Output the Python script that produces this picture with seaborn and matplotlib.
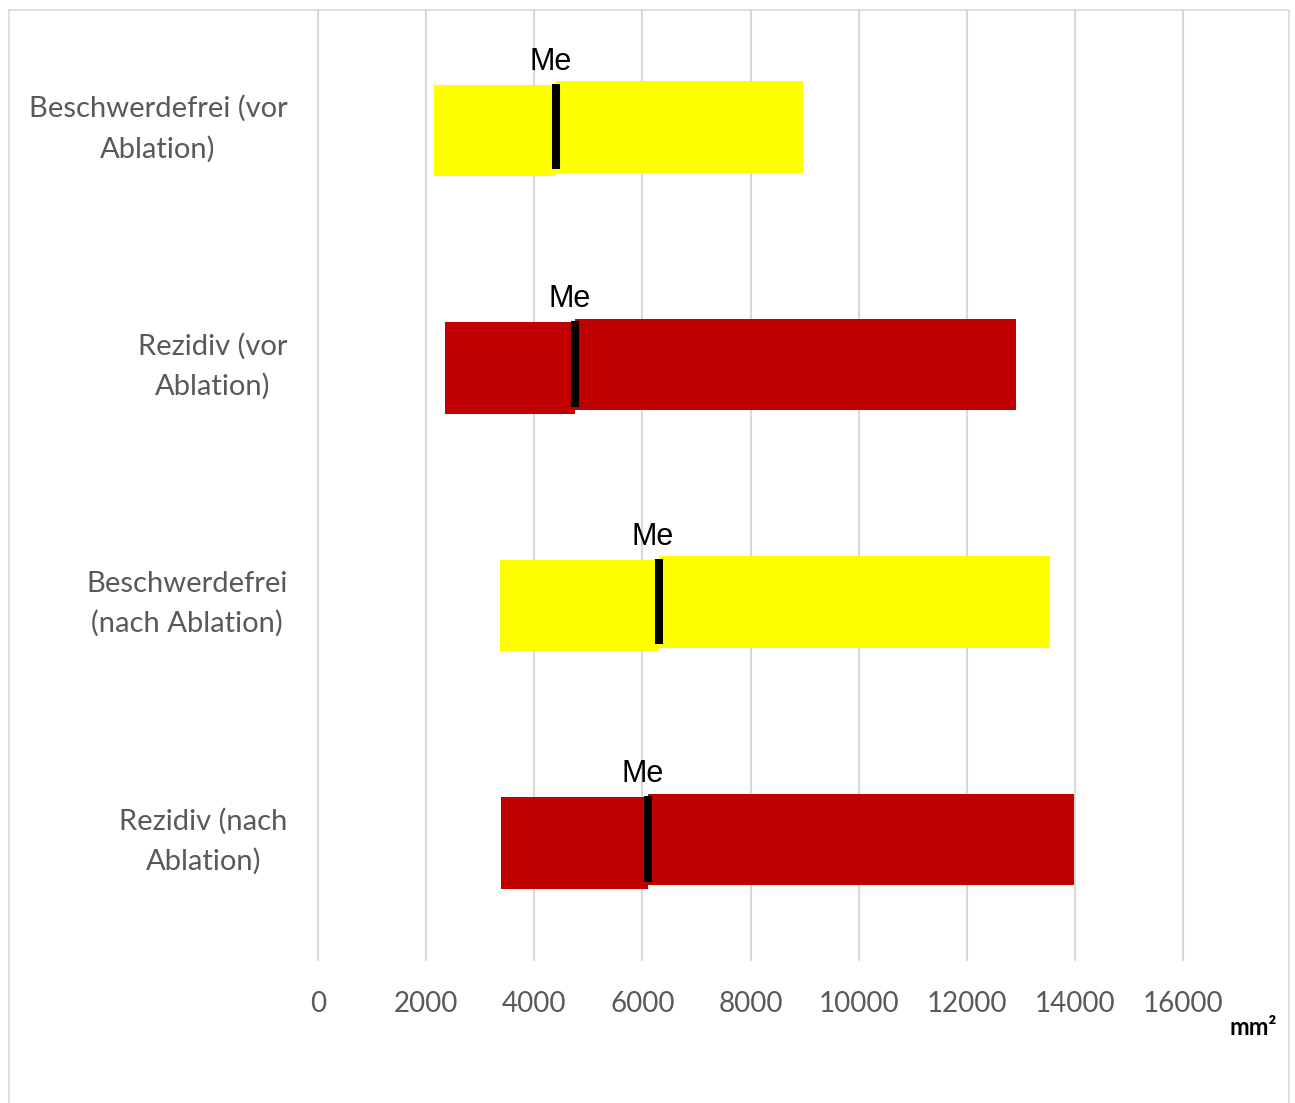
import matplotlib
matplotlib.use("Agg")
import matplotlib.pyplot as plt
from matplotlib.patches import Rectangle
import pandas as pd
import seaborn as sns

# Area distribution per group: first quartile, median, third quartile (mm²)
categories = [
    "Beschwerdefrei (vor\nAblation)",
    "Rezidiv (vor\nAblation)",
    "Beschwerdefrei\n(nach Ablation)",
    "Rezidiv (nach\nAblation)",
]
q1 = [2150, 2350, 3370, 3380]
median = [4400, 4750, 6300, 6100]
q3 = [8970, 12910, 13540, 13990]
bar_colors = ["#FFFF00", "#C00000", "#FFFF00", "#C00000"]
x_ticks = [0, 2000, 4000, 6000, 8000, 10000, 12000, 14000, 16000]

df = pd.DataFrame({"group": categories, "q1": q1, "median": median, "q3": q3,
                   "color": bar_colors})
df["pos"] = range(len(df))
df["lower"] = df["median"] - df["q1"]
df["upper"] = df["q3"] - df["median"]

sns.set_theme(style="white")
plt.rcParams["font.family"] = ["Lato", "DejaVu Sans"]

fig = plt.figure(figsize=(12.95, 11.03), dpi=100)
ax = fig.add_axes([318 / 1295, 1 - 960 / 1103, 865 / 1295, 950 / 1103])

bar_h = 0.387
shift = 0.0075
for _, row in df.iterrows():
    one = pd.DataFrame([row])
    # lower half of the box: Q1 -> median
    sns.barplot(data=one.assign(y=one["pos"] + shift), x="lower", y="y",
                orient="y", native_scale=True, left=row["q1"], color=row["color"],
                saturation=1, width=bar_h, errorbar=None, linewidth=0, ax=ax)
    # upper half of the box: median -> Q3
    sns.barplot(data=one.assign(y=one["pos"] - shift), x="upper", y="y",
                orient="y", native_scale=True, left=row["median"], color=row["color"],
                saturation=1, width=bar_h, errorbar=None, linewidth=0, ax=ax)

# median markers
ax.vlines(df["median"], df["pos"] - 0.19, df["pos"] + 0.17,
          color="black", linewidth=5.8, zorder=4)
for _, row in df.iterrows():
    ax.annotate("Me", xy=(row["median"], row["pos"] - shift - bar_h / 2),
                xytext=(-4, 8), textcoords="offset points", ha="center",
                va="baseline", fontsize=22, color="black",
                family=["Liberation Sans", "DejaVu Sans"])

ax.set_xlim(0, 16000)
ax.set_ylim(3.5, -0.5)
ax.set_xticks(x_ticks)
ax.set_xticklabels([str(t) for t in x_ticks])
ax.set_yticks(df["pos"])
ax.set_yticklabels(categories)
for lbl in ax.get_yticklabels():
    lbl.set_multialignment("center")
    lbl.set_linespacing(1.62)
    lbl.set_verticalalignment("center")
ax.tick_params(axis="both", length=0, labelcolor="#595959")
ax.tick_params(axis="y", pad=22, labelsize=21)
ax.tick_params(axis="x", pad=22, labelsize=20)
ax.set_xlabel("")
ax.set_ylabel("")
ax.grid(axis="x", color="#d9d9d9", linewidth=1.5)
ax.grid(axis="y", visible=False)
for gl in ax.get_xgridlines():
    gl.set_clip_on(False)
ax.set_axisbelow(True)
for s in ax.spines.values():
    s.set_visible(False)

# unit label
fig.text(1253 / 1295, 1 - 1035 / 1103, "mm²", ha="center", va="baseline",
         fontsize=17, fontweight="bold", color="black")

# chart frame
fig.patches.append(Rectangle((8.5 / 1295, -0.05), (1289 - 8.5) / 1295,
                             1.05 - 10 / 1103, transform=fig.transFigure,
                             fill=False, edgecolor="#d9d9d9", linewidth=1.2))

fig.savefig("out.png", dpi=100)
